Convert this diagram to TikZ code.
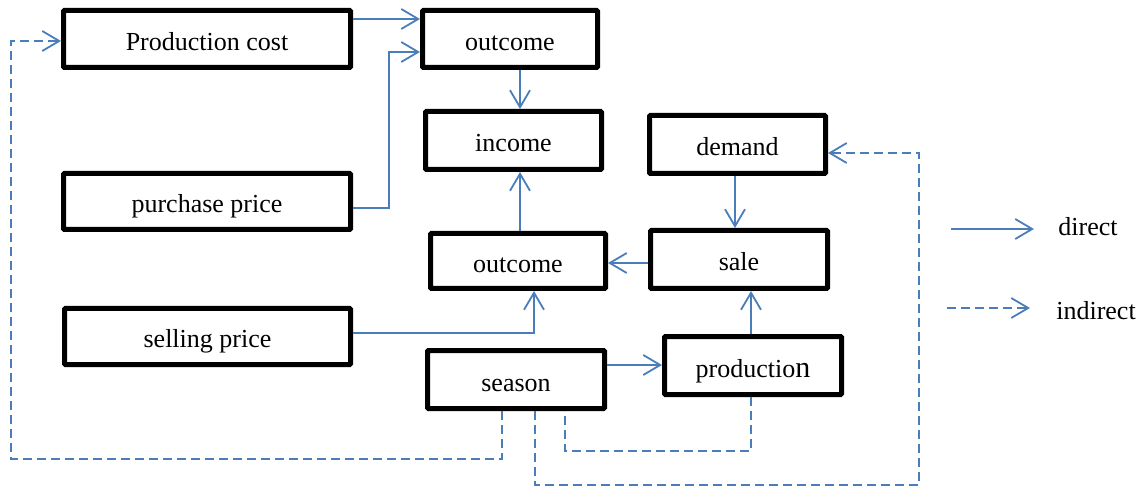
\documentclass[tikz,border=0pt]{standalone}
\usepackage{fontspec}
\setmainfont{Liberation Serif}
\usetikzlibrary{arrows.meta}
\definecolor{lnblue}{RGB}{74,126,187}
\begin{document}
\begin{tikzpicture}[x=1pt,y=1pt,
  box/.style={draw=black, line width=5pt, rounded corners=1pt, inner sep=0pt,
    text height=23pt, text depth=0pt,
    font=\fontsize{26}{30}\selectfont, fill=white},
  lbl/.style={inner sep=0pt, text height=23pt, text depth=0pt, font=\fontsize{26}{30}\selectfont},
  dir/.style={draw=lnblue, line width=1.8pt,
    -{Straight Barb[length=17pt,width=20pt,line width=1.8pt]}},
  ind/.style={dir, dash pattern=on 9pt off 5pt},
  indn/.style={draw=lnblue, line width=1.8pt, dash pattern=on 9pt off 5pt},
]
\useasboundingbox (0,0) rectangle (1144,488);
% boxes
\node[box, minimum width=287pt, minimum height=57pt] (pc) at (207,449) {Production cost};
\node[box, minimum width=175pt, minimum height=57pt] (o1) at (510,449) {outcome};
\node[box, minimum width=176pt, minimum height=58pt] (inc) at (513.5,347.5) {income};
\node[box, minimum width=176pt, minimum height=58pt] (dem) at (737.5,343.5) {demand};
\node[box, minimum width=177pt, minimum height=58pt] (sale) at (739,228.5) {sale};
\node[box, minimum width=175pt, minimum height=55pt] (o2) at (518,227) {outcome};
\node[box, minimum width=287pt, minimum height=56pt] (pp) at (207,286.5) {purchase price};
\node[box, minimum width=286pt, minimum height=56pt] (sp) at (207.5,151.5) {selling price};
\node[box, minimum width=177pt, minimum height=58pt] (sea) at (516,108.5) {season};
\node[box, minimum width=177pt, minimum height=58pt] (prod) at (753,122.5) {productio{\fontsize{30}{30}\selectfont n}};
% direct connectors
\draw[dir] ([yshift=20pt]pc.east) -- ([yshift=20pt]pc.east -| o1.west);
\draw[dir] ([yshift=-6.5pt]pp.east) -- ++(36,0) |- ([yshift=-13pt]o1.west);
\draw[dir] ([xshift=10pt]o1.south) -- ([xshift=10pt]o1.south |- inc.north);
\draw[dir] ([xshift=2pt]o2.north) -- ([xshift=2pt]o2.north |- inc.south);
\draw[dir] ([xshift=-2.5pt]dem.south) -- ([xshift=-2.5pt]dem.south |- sale.north);
\draw[dir] ([yshift=-3.5pt]sale.west) -- ([yshift=-3.5pt]sale.west -| o2.east);
\draw[dir] ([xshift=-2pt]prod.north) -- ([xshift=-2pt]prod.north |- sale.south);
\draw[dir] ([yshift=3.5pt]sp.east) -| ([xshift=16pt]o2.south);
\draw[dir] ([yshift=14.5pt]sea.east) -- ([yshift=14.5pt]sea.east -| prod.west);
% indirect connectors
\coordinate (c1) at (11,29);
\draw[ind] ([xshift=-14pt]sea.south) |- (c1) |- ([yshift=-2pt]pc.west);
\coordinate (c2) at (565,37);
\draw[indn] ([xshift=-2pt]prod.south) |- (c2) -- ([xshift=49pt]sea.south |- c2) -- ([xshift=49pt]sea.south);
\coordinate (c3) at (919,3);
\draw[ind] ([xshift=19pt]sea.south) |- (c3) |- ([yshift=-8.5pt]dem.east);
% legend
\coordinate (l1s) at (951,259);
\coordinate (l1e) at (1034,259);
\node[lbl] (ldir) at (1088,263.5) {direct};
\draw[dir] (l1s) -- (l1e);
\coordinate (l2s) at (947,180);
\coordinate (l2e) at (1030,180);
\node[lbl] (lind) at (1096,179.5) {indirect};
\draw[ind] (l2s) -- (l2e);
\end{tikzpicture}
\end{document}
